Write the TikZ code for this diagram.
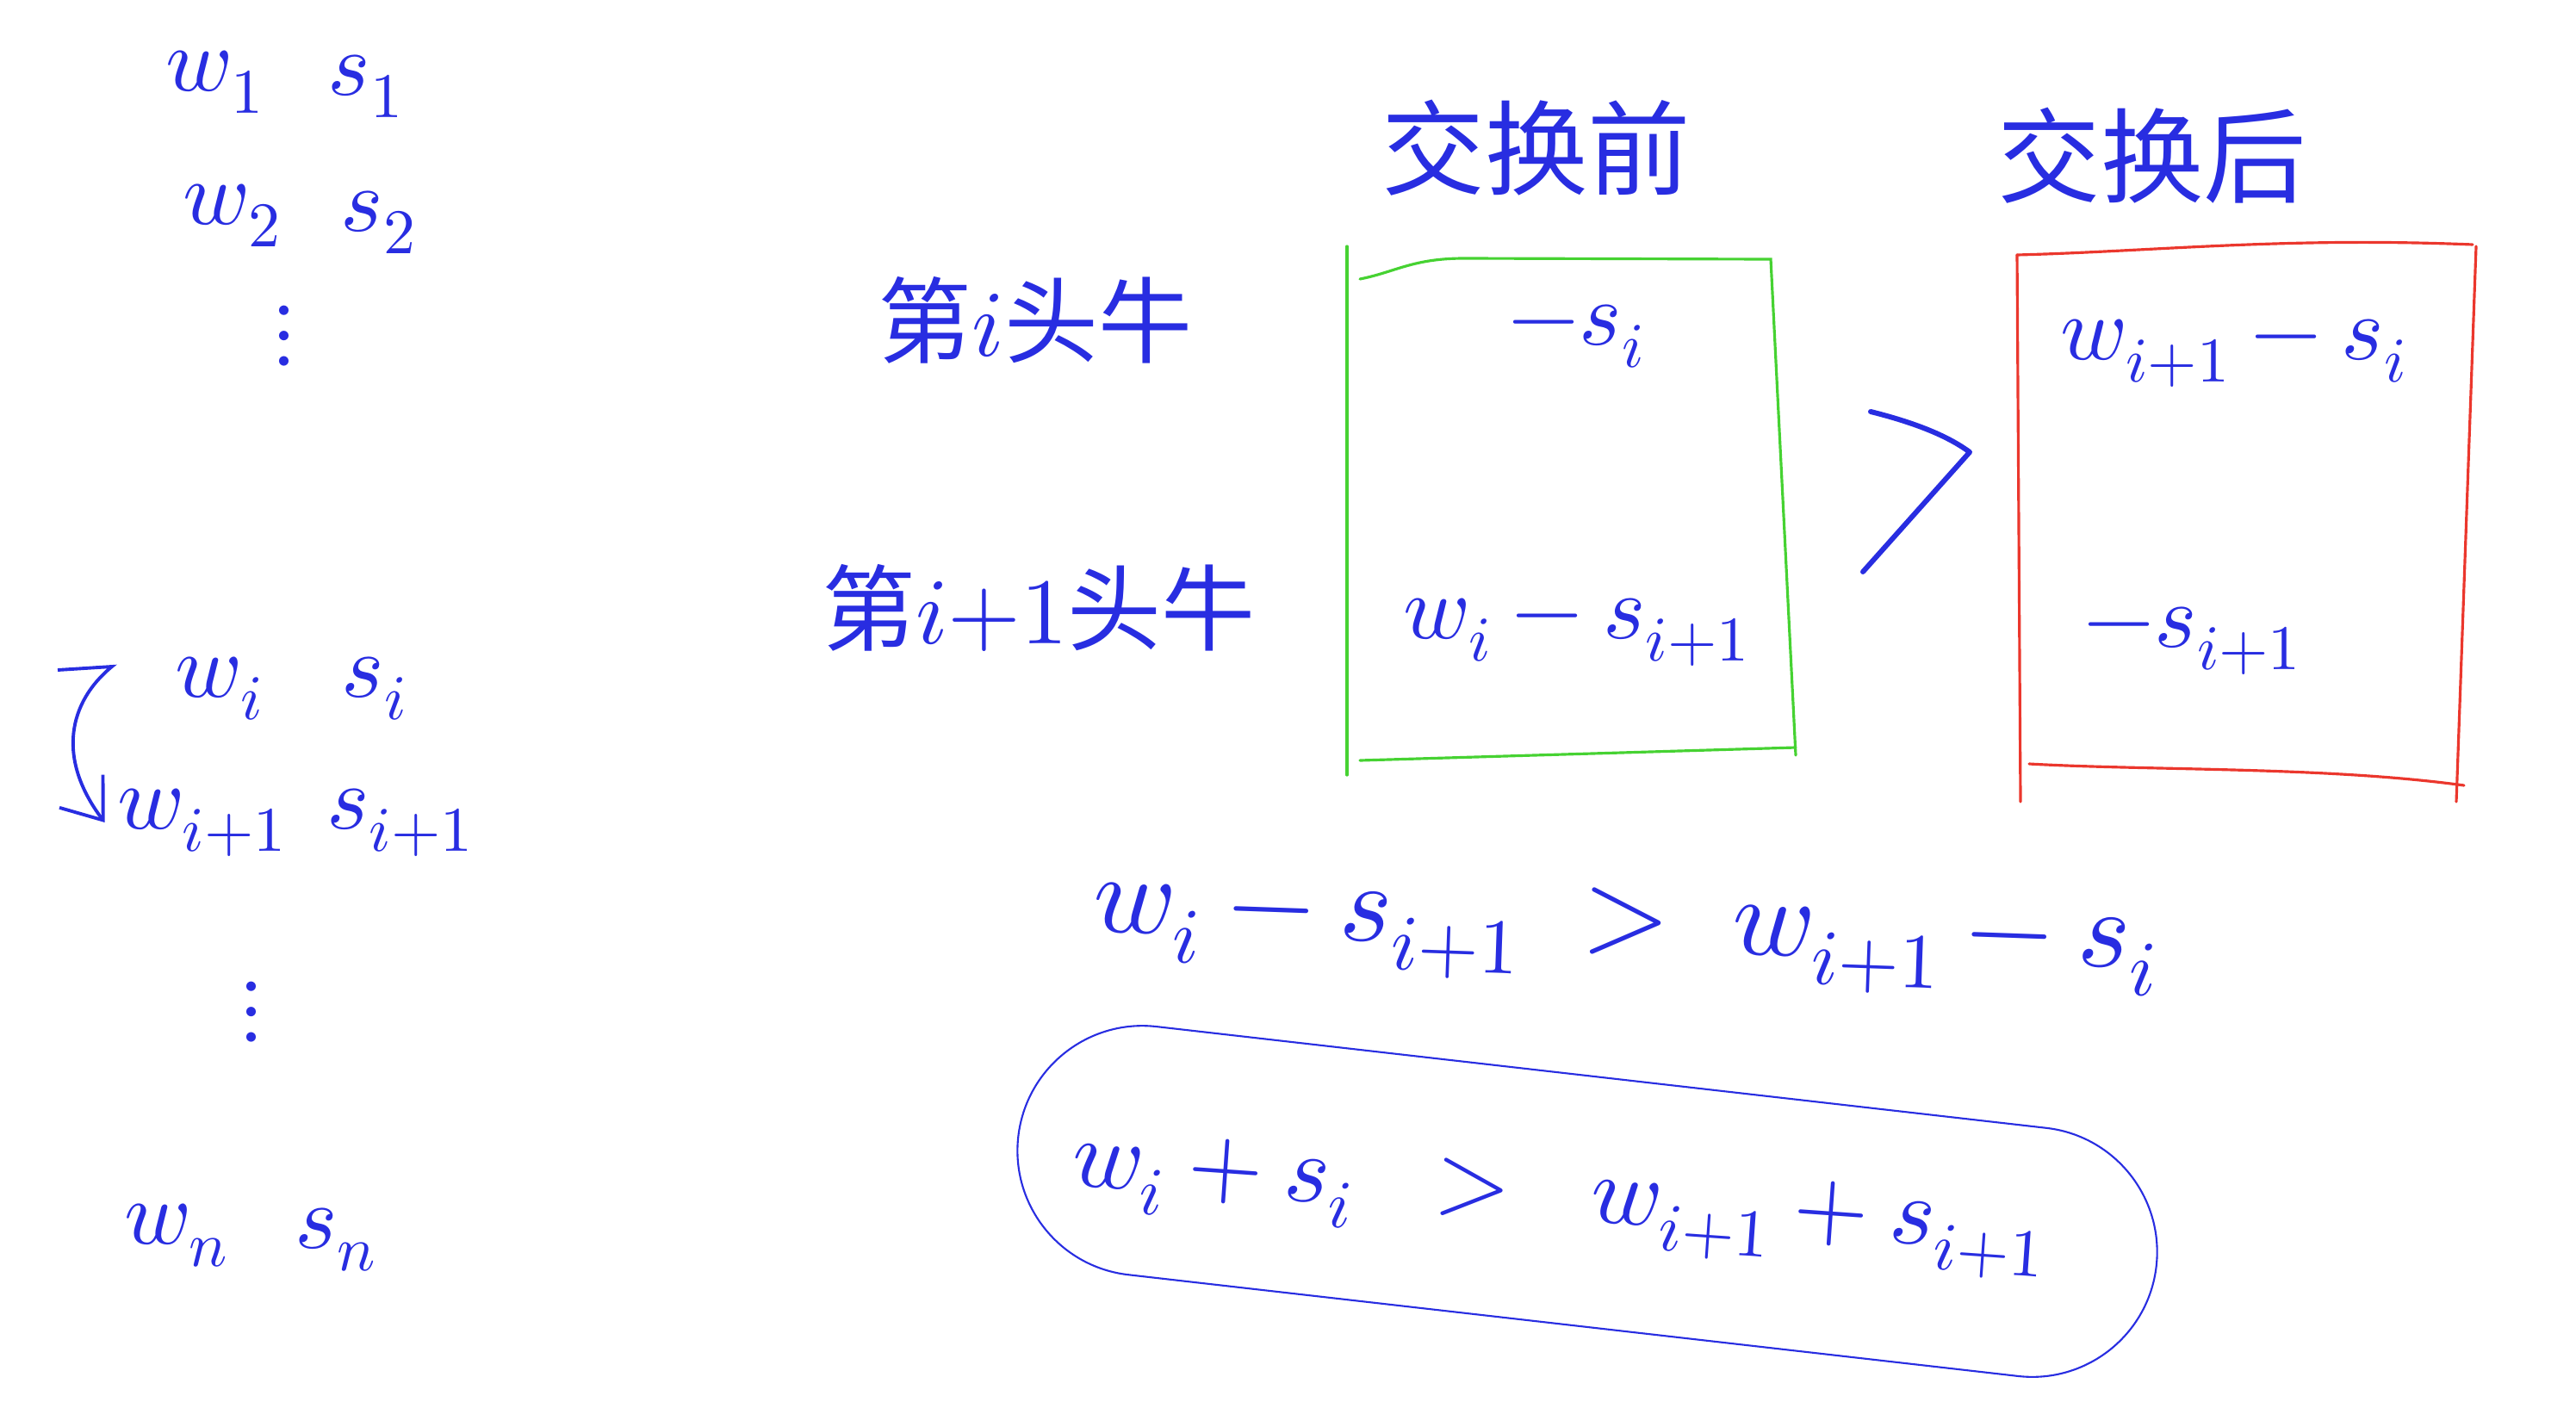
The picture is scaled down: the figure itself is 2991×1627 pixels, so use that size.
\documentclass[tikz,border=0pt]{standalone}
\usepackage{fontspec}
\usepackage{unicode-math}
\setmathfont{Latin Modern Math}
\newfontfamily\cjk{Noto Sans CJK SC}
\usetikzlibrary{arrows.meta,positioning}
\definecolor{inkblue}{RGB}{40,45,225}
\definecolor{inkgreen}{RGB}{70,210,50}
\definecolor{inkred}{RGB}{235,55,45}
\tikzset{
  ink/.style={text=inkblue,inner sep=0pt},
  pair/.style={ink,font=\fontsize{30}{30}\selectfont},
  head/.style={ink,font=\cjk\fontsize{34}{34}\selectfont},
  cell/.style={ink,font=\fontsize{30}{30}\selectfont},
  eq/.style={ink,font=\fontsize{37}{37}\selectfont},
  greenline/.style={draw=inkgreen,line width=0.9pt,line cap=round},
  redline/.style={draw=inkred,line width=0.9pt,line cap=round},
}

\begin{document}
\begin{tikzpicture}[x=0.01cm,y=-0.01cm]
\useasboundingbox (0,0) rectangle (2991,1627);
% left column
\node[pair] (w1) at (250,95) {$w_1$};
\node[pair] (s1) at (425,100) {$s_1$};
\node[pair] (w2) at (270,250) {$w_2$};
\node[pair] (s2) at (440,258) {$s_2$};
\node[pair] (vd1) at (330,390) {$\vdots$};
\node[pair] (wi) at (255,800) {$w_i$};
\node[pair] (si) at (435,800) {$s_i$};
\node[pair] (wi1) at (235,955) {$w_{i+1}$};
\node[pair] (si1) at (465,955) {$s_{i+1}$};
\node[pair] (vd2) at (292,1175) {$\vdots$};
\node[pair] (wn) at (205,1435) {$w_n$};
\node[pair] (sn) at (390,1440) {$s_n$};
\coordinate (swapS) at (67,778);
\draw[inkblue,line width=1.1pt,-{Straight Barb[length=12pt,width=18pt]}]
  (swapS) -- (130,774) .. controls (80,815) and (65,880) .. ([xshift=-4pt]wi1.west);
% headers
\node[head] (before) at (1784,172) {交换前};
\node[head] (after) at (2499,181) {交换后};
\node[head,font=\cjk\fontsize{31}{31}\selectfont] (rowi) at (1202,372) {第$i$头牛};
\node[head,font=\cjk\fontsize{31}{31}\selectfont] (rowi1) at (1206,706) {第$i{+}1$头牛};
% before swap
\draw[greenline] (1564,286) -- (1564,900);
\draw[greenline] (1579,324) .. controls (1620,316) and (1640,300) .. (1700,300) -- (2056,301) -- (2085,877);
\draw[greenline] (1579,883) -- (2085,868);
\node[cell] (b1) at (1831,391) {$-s_i$};
\node[cell] (b2) at (1831,734) {$w_i-s_{i+1}$};
% after swap
\draw[redline] (2342,296) .. controls (2500,292) and (2650,275) .. (2871,284);
\draw[redline] (2875,286) -- (2852,931);
\draw[redline] (2356,887) .. controls (2500,895) and (2700,890) .. (2861,912);
\draw[redline] (2342,296) -- (2346,931);
\node[cell] (a1) at (2594,410) {$w_{i+1}-s_i$};
\node[cell] (a2) at (2546,744) {$-s_{i+1}$};
% comparison
\draw[inkblue,line width=1.7pt,line cap=round,line join=round]
  (2172,478) .. controls (2220,490) and (2260,505) .. (2287,525) -- (2163,664);
\node[eq,rotate=-2] (ineq) at (1888,1087) {$w_i-s_{i+1}\;>\;w_{i+1}-s_i$};
\draw[inkblue,line width=0.6pt,rounded corners=1.45cm,rotate around={-6.5:(1843,1395)}]
  (1178,1250) rectangle (2508,1540);
\node[eq,font=\fontsize{32}{32}\selectfont,rotate=-4] (result) at (1810,1400) {$w_i+s_i\;\;>\;\;w_{i+1}+s_{i+1}$};
\end{tikzpicture}
\end{document}
